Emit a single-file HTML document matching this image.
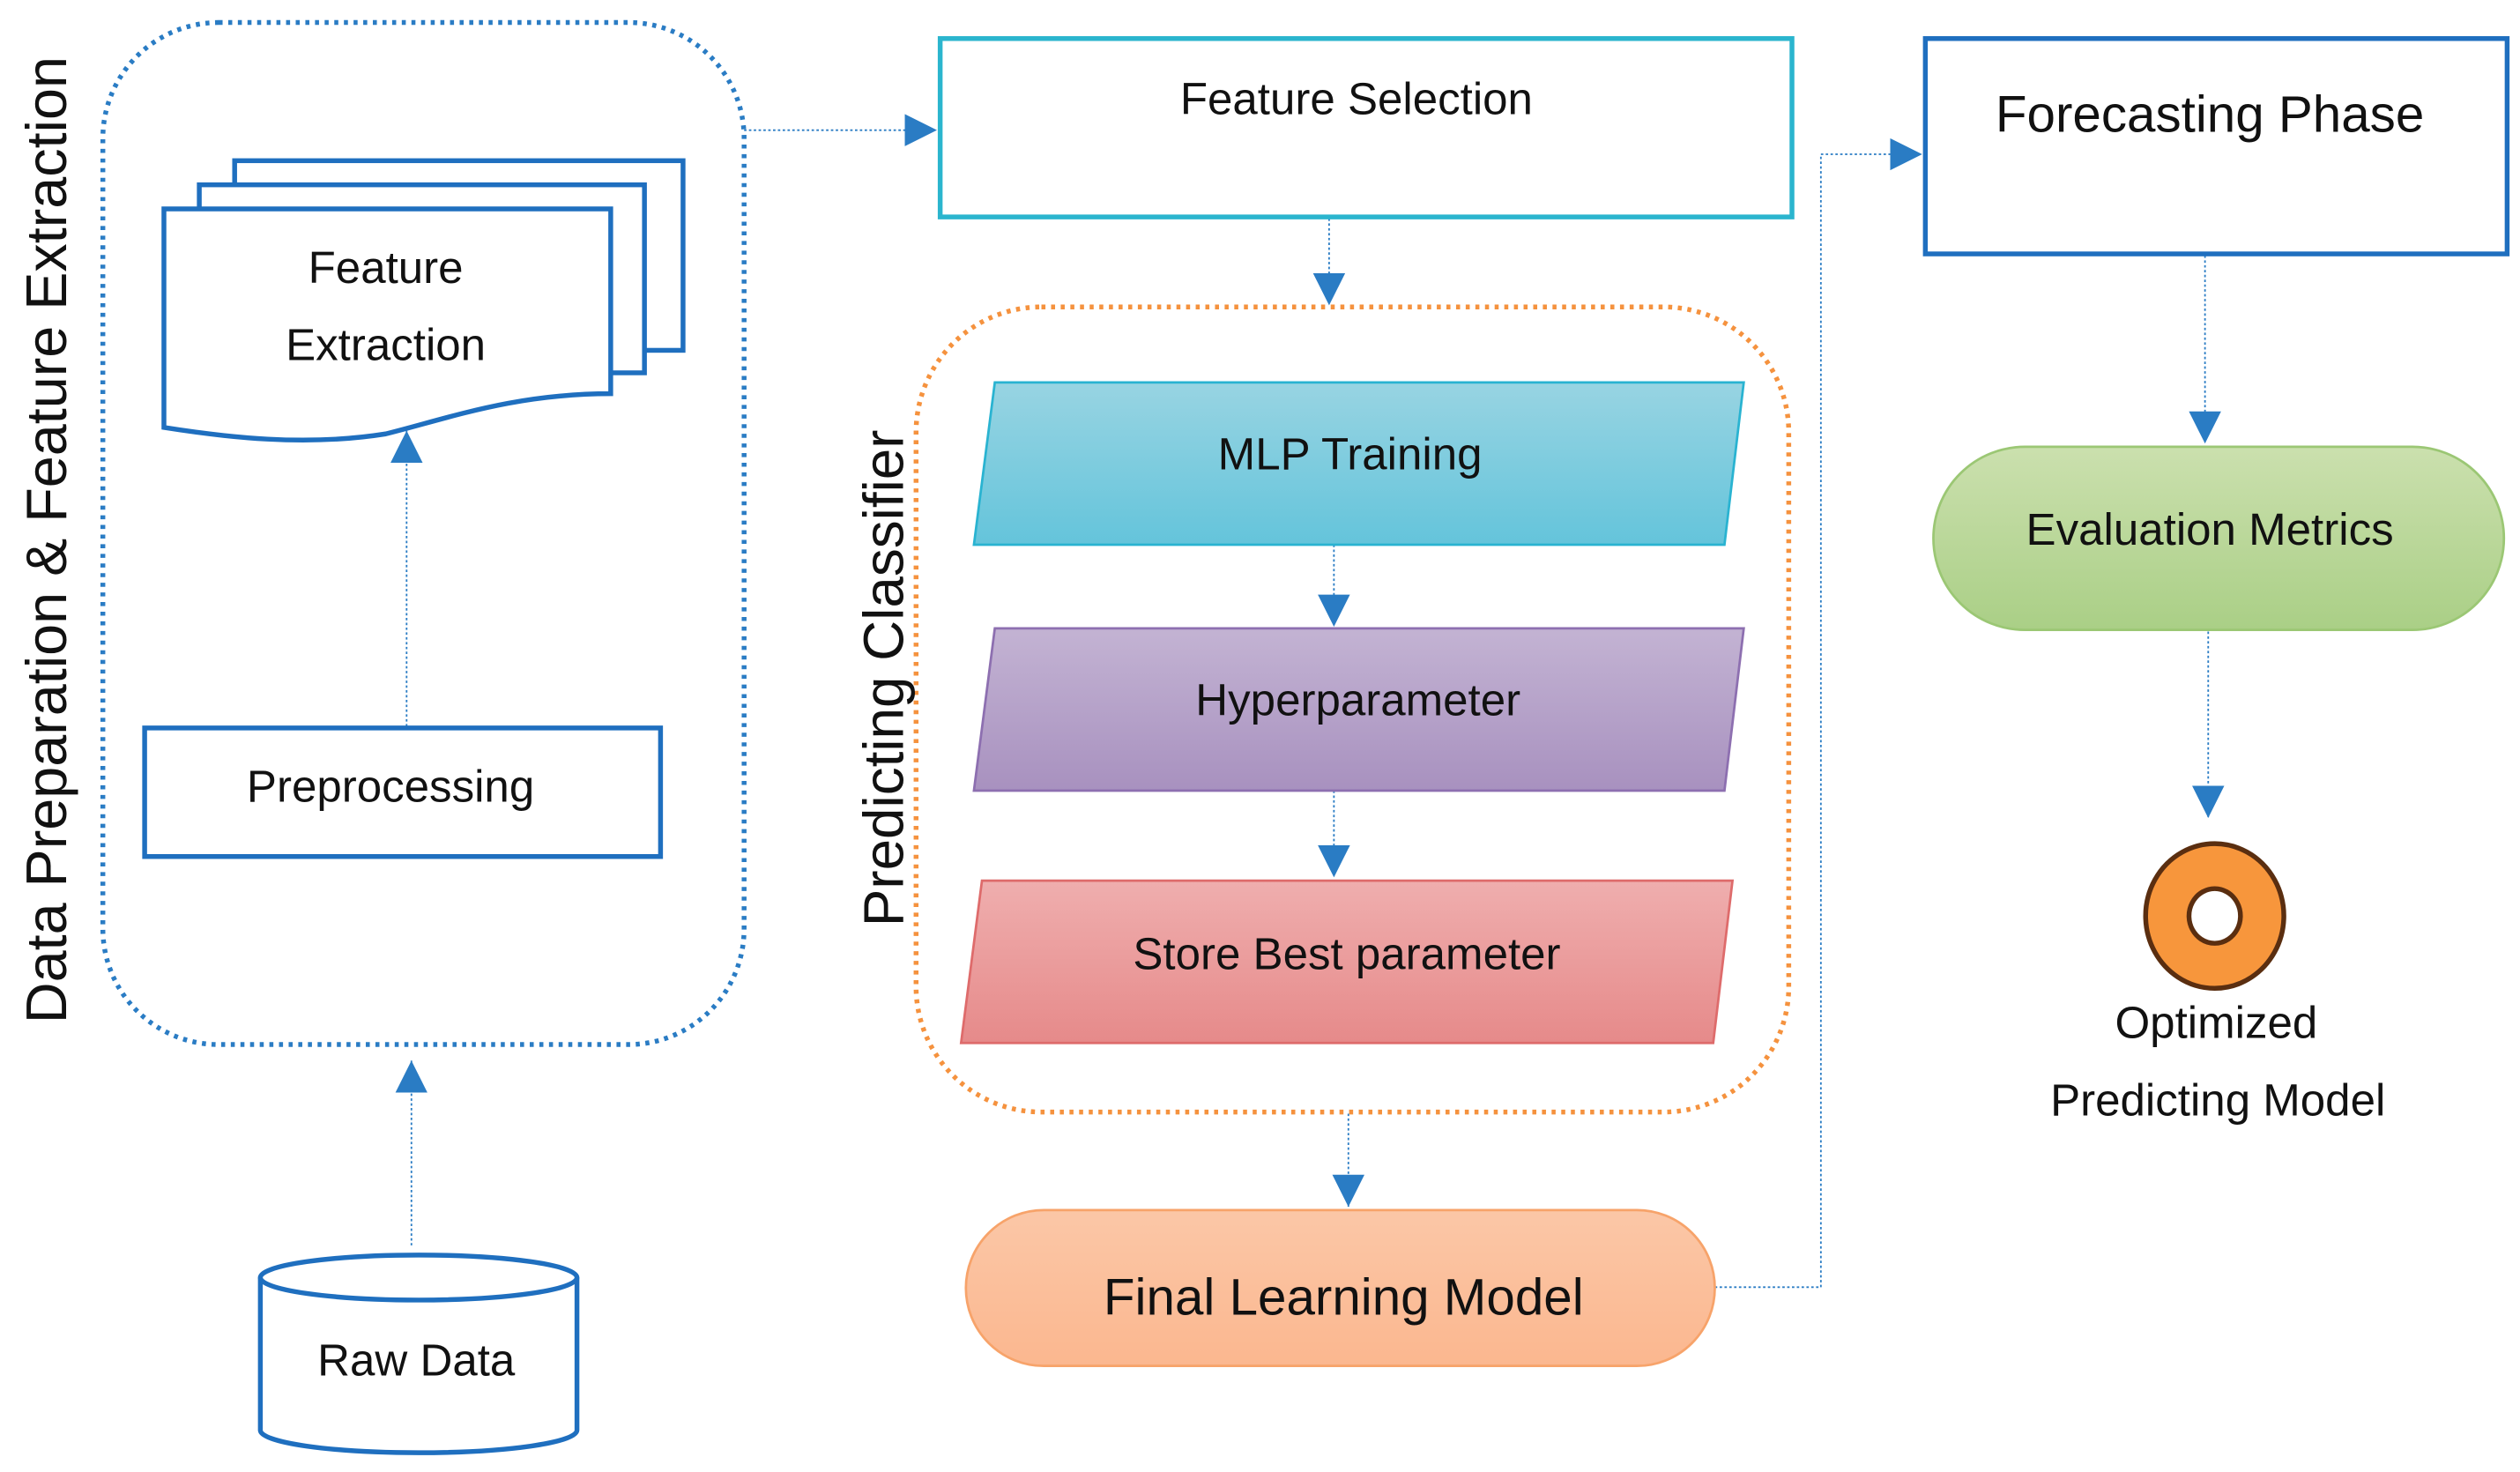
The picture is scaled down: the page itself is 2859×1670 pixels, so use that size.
<!DOCTYPE html>
<html><head><meta charset="utf-8"><style>html,body{margin:0;padding:0;background:#fff}svg{display:block}</style></head>
<body>
<svg width="2859" height="1670" viewBox="0 0 1568 916" preserveAspectRatio="none" xmlns="http://www.w3.org/2000/svg" font-family="Liberation Sans, sans-serif">
<defs>
<linearGradient id="gc" x1="0" y1="0" x2="0" y2="1"><stop offset="0" stop-color="#98D4E2"/><stop offset="1" stop-color="#64C4DB"/></linearGradient>
<linearGradient id="gp" x1="0" y1="0" x2="0" y2="1"><stop offset="0" stop-color="#C3B3D3"/><stop offset="1" stop-color="#A891BF"/></linearGradient>
<linearGradient id="gr" x1="0" y1="0" x2="0" y2="1"><stop offset="0" stop-color="#EFAEAE"/><stop offset="1" stop-color="#E68A8A"/></linearGradient>
<linearGradient id="go" x1="0" y1="0" x2="0" y2="1"><stop offset="0" stop-color="#FBC7A7"/><stop offset="1" stop-color="#FBB78F"/></linearGradient>
<linearGradient id="gg" x1="0" y1="0" x2="0" y2="1"><stop offset="0" stop-color="#CBE0AE"/><stop offset="1" stop-color="#AACF86"/></linearGradient>
<marker id="ar" viewBox="0 0 10 10" refX="10" refY="5" markerWidth="20" markerHeight="20" markerUnits="userSpaceOnUse" orient="auto"><path d="M0,0 L10,5 L0,10 z" fill="#2A7CC4"/></marker>
</defs>
<g fill="none" stroke="#2A7CC4" stroke-width="1" stroke-dasharray="1.5,1.5">
<line x1="253" y1="452" x2="253" y2="268" marker-end="url(#ar)"/>
<line x1="256" y1="775" x2="256" y2="660" marker-end="url(#ar)"/>
<polyline points="463,81 583,81" marker-end="url(#ar)"/>
<line x1="827" y1="136" x2="827" y2="190" marker-end="url(#ar)"/>
<line x1="830" y1="339" x2="830" y2="390" marker-end="url(#ar)"/>
<line x1="830" y1="492" x2="830" y2="546" marker-end="url(#ar)"/>
<line x1="839" y1="693" x2="839" y2="751" marker-end="url(#ar)"/>
<polyline points="1067,801 1133,801 1133,96 1196,96" marker-end="url(#ar)"/>
<line x1="1372" y1="159" x2="1372" y2="276" marker-end="url(#ar)"/>
<line x1="1374" y1="393" x2="1374" y2="509" marker-end="url(#ar)"/>
</g>
<rect x="64" y="14" width="399" height="636" rx="72" fill="none" stroke="#2A7CC4" stroke-width="3" stroke-dasharray="2.5,3.5"/>
<rect x="570" y="191" width="543" height="501" rx="78" fill="none" stroke="#F5923E" stroke-width="3" stroke-dasharray="2.5,3.5"/>
<g stroke="#1F6FBF" stroke-width="3" fill="#fff">
<rect x="146" y="100" width="279" height="118"/>
<rect x="124" y="115" width="277" height="117"/>
<path d="M102,130 H380 V245 C320,245 280,260 240,270 C190,278 140,272 102,266 Z"/>
<rect x="90" y="453" width="321" height="80"/>
<rect x="1198" y="24" width="362" height="134"/>
<path d="M162,795 V890 A98.5,14 0 0 0 359,890 V795"/>
<ellipse cx="260.5" cy="795" rx="98.5" ry="14"/>
</g>
<rect x="585" y="24" width="530" height="111" fill="#fff" stroke="#2BB5CE" stroke-width="3"/>
<path d="M619,238 H1085 L1073,339 H606 Z" fill="url(#gc)" stroke="#29B3D1" stroke-width="1.5"/>
<path d="M619,391 H1085 L1073,492 H606 Z" fill="url(#gp)" stroke="#8D6FB0" stroke-width="1.5"/>
<path d="M611,548 H1078 L1066,649 H598 Z" fill="url(#gr)" stroke="#DE6B6B" stroke-width="1.5"/>
<rect x="601" y="753" width="466" height="97" rx="48.5" fill="url(#go)" stroke="#F7A36A" stroke-width="1.5"/>
<rect x="1203" y="278" width="355" height="114" rx="57" fill="url(#gg)" stroke="#9BC774" stroke-width="1.5"/>
<path fill-rule="evenodd" d="M1378,525 a43,45 0 1 0 0.1,0 Z M1378,553 a16,17 0 1 0 0.1,0 Z" fill="#F7963C" stroke="#5A2E10" stroke-width="3"/>
<g fill="#111" text-anchor="middle" font-size="28">
<text x="240" y="176">Feature</text>
<text x="240" y="224">Extraction</text>
<text x="243" y="499">Preprocessing</text>
<text x="259" y="856">Raw Data</text>
<text x="844" y="71">Feature Selection</text>
<text x="840" y="292">MLP Training</text>
<text x="845" y="445">Hyperparameter</text>
<text x="838" y="603">Store Best parameter</text>
<text x="836" y="818" font-size="32">Final Learning Model</text>
<text x="1375" y="82" font-size="32">Forecasting Phase</text>
<text x="1375" y="339">Evaluation Metrics</text>
<text x="1379" y="646">Optimized</text>
<text x="1380" y="694">Predicting Model</text>
<text transform="translate(41,336) rotate(-90)" font-size="35.5">Data Preparation &amp; Feature Extraction</text>
<text transform="translate(562,422) rotate(-90)" font-size="35">Predicting Classifier</text>
</g>
</svg>
</body></html>
